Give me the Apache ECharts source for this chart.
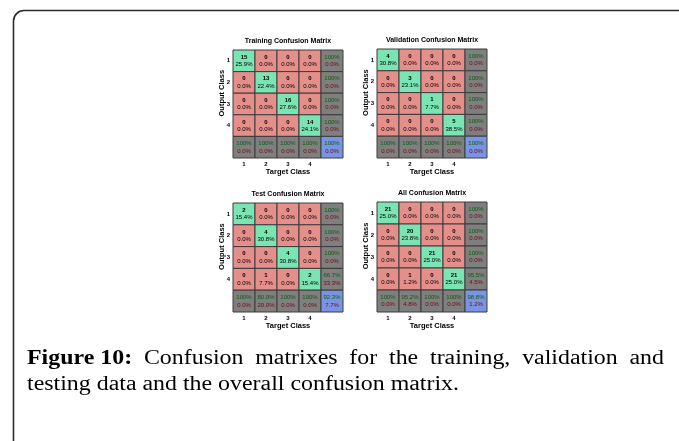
<!DOCTYPE html>
<html>
<head>
<meta charset="utf-8">
<script src="https://cdn.jsdelivr.net/npm/echarts@6/dist/echarts.min.js"></script>
<style>
html,body{margin:0;padding:0;background:#fff;}
#main{width:679px;height:441px;}
</style>
</head>
<body>
<div id="main"></div>
<script>
// ---- data ----
const classLabels = ['1', '2', '3', '4', ''];
const matrixTitles = ['Training Confusion Matrix', 'Validation Confusion Matrix', 'Test Confusion Matrix', 'All Confusion Matrix'];

const trainCounts = [[15,0,0,0],[0,13,0,0],[0,0,16,0],[0,0,0,14]];
const trainRowCorrect = [100,100,100,100];
const trainColCorrect = [100,100,100,100];
const trainOverall = 100;

const valCounts = [[4,0,0,0],[0,3,0,0],[0,0,1,0],[0,0,0,5]];
const valRowCorrect = [100,100,100,100];
const valColCorrect = [100,100,100,100];
const valOverall = 100;

const testCounts = [[2,0,0,0],[0,4,0,0],[0,0,4,0],[0,1,0,2]];
const testRowCorrect = [100,100,100,66.7];
const testColCorrect = [100,80.0,100,100];
const testOverall = 92.3;

const allCounts = [[21,0,0,0],[0,20,0,0],[0,0,21,0],[0,1,0,21]];
const allRowCorrect = [100,100,100,95.5];
const allColCorrect = [100,95.2,100,100];
const allOverall = 98.8;

const captionLine1 = ['Confusion', 'matrixes', 'for', 'the', 'training,', 'validation', 'and'];
const captionLabel = 'Figure 10:';
const captionLine2 = 'testing data and the overall confusion matrix.';

// ---- helpers ----
const matrices = [
  {counts: trainCounts, row: trainRowCorrect, col: trainColCorrect, overall: trainOverall},
  {counts: valCounts, row: valRowCorrect, col: valColCorrect, overall: valOverall},
  {counts: testCounts, row: testRowCorrect, col: testColCorrect, overall: testOverall},
  {counts: allCounts, row: allRowCorrect, col: allColCorrect, overall: allOverall}
];
const gridBoxes = [
  {left: 233, top: 50, width: 110, height: 108},
  {left: 377, top: 49, width: 110, height: 109},
  {left: 233, top: 203, width: 110, height: 109},
  {left: 377, top: 202, width: 110, height: 110}
];
const COLORS = {green: '#7ae5b2', red: '#e58f8b', gray: '#7f7f7f', blue: '#7a94e4'};
function pct(v) { return v === 100 ? '100%' : v.toFixed(1) + '%'; }

function buildCells(m) {
  const cells = [];
  let total = 0;
  m.counts.forEach(r => r.forEach(v => total += v));
  for (let r = 0; r < 4; r++) {
    for (let c = 0; c < 4; c++) {
      const v = m.counts[r][c];
      cells.push({x: c, y: r, a: String(v), b: (v / total * 100).toFixed(1) + '%', kind: r === c ? 'green' : 'red'});
    }
    cells.push({x: 4, y: r, a: pct(m.row[r]), b: (100 - m.row[r]).toFixed(1) + '%', kind: 'gray'});
  }
  for (let c = 0; c < 4; c++) {
    cells.push({x: c, y: 4, a: pct(m.col[c]), b: (100 - m.col[c]).toFixed(1) + '%', kind: 'gray'});
  }
  cells.push({x: 4, y: 4, a: pct(m.overall), b: (100 - m.overall).toFixed(1) + '%', kind: 'blue'});
  return cells;
}

const FONT = '"Liberation Sans", Arial, sans-serif';
const grids = [], xAxes = [], yAxes = [], series = [], titles = [], graphics = [];

matrices.forEach((m, i) => {
  const g = gridBoxes[i];
  grids.push({left: g.left, top: g.top, width: g.width, height: g.height, containLabel: false});
  xAxes.push({
    type: 'category', gridIndex: i, data: classLabels,
    axisLine: {show: false}, axisTick: {show: false}, splitLine: {show: false},
    axisLabel: {fontFamily: FONT, fontSize: 6, fontWeight: 'bold', color: '#000', margin: 3},
    name: 'Target Class', nameLocation: 'middle', nameGap: 10,
    nameTextStyle: {fontFamily: FONT, fontSize: 7.5, fontWeight: 'bold', color: '#000'}
  });
  yAxes.push({
    type: 'category', gridIndex: i, data: classLabels, inverse: true,
    axisLine: {show: false}, axisTick: {show: false}, splitLine: {show: false},
    axisLabel: {fontFamily: FONT, fontSize: 6, fontWeight: 'bold', color: '#000', margin: 3}
  });
  titles.push({
    text: matrixTitles[i], left: g.left + g.width / 2, top: g.top - 12, textAlign: 'center', padding: 0,
    textStyle: {fontFamily: FONT, fontSize: 7, fontWeight: 'bold', color: '#000'}
  });
  graphics.push({
    type: 'text', x: g.left - 11, y: g.top + g.height * 0.4, rotation: Math.PI / 2,
    style: {text: 'Output Class', fontFamily: FONT, fontSize: 7.5, fontWeight: 'bold', fill: '#000', align: 'center', verticalAlign: 'middle'}
  });
  const cells = buildCells(m);
  series.push({
    type: 'custom', xAxisIndex: i, yAxisIndex: i,
    data: cells.map(c => [c.x, c.y]),
    renderItem: function (params, api) {
      const cell = cells[params.dataIndex];
      const p = api.coord([api.value(0), api.value(1)]);
      const s = api.size([1, 1]);
      const isSummary = cell.kind === 'gray' || cell.kind === 'blue';
      const topColor = isSummary ? '#0b5d0b' : '#000';
      const botColor = isSummary ? '#6e0a14' : '#000';
      return {
        type: 'group',
        children: [
          {type: 'rect', shape: {x: p[0] - s[0] / 2, y: p[1] - s[1] / 2, width: s[0], height: s[1]},
           style: {fill: COLORS[cell.kind], stroke: '#3c3c3c', lineWidth: 1}},
          {type: 'text', x: p[0], y: p[1],
           style: {text: '{a|' + cell.a + '}\n{b|' + cell.b + '}', align: 'center', verticalAlign: 'middle',
             rich: {
               a: {fontFamily: FONT, fontSize: 6, fontWeight: isSummary ? 'normal' : 'bold', fill: topColor, lineHeight: 7.5, align: 'center'},
               b: {fontFamily: FONT, fontSize: 6, fill: botColor, lineHeight: 7.5, align: 'center'}
             }}}
        ]
      };
    }
  });
});

// frame
const frameStyle = {stroke: '#2b2b2b', lineWidth: 1.6, fill: null};
graphics.push({type: 'line', shape: {x1: 13.5, y1: 441, x2: 13.5, y2: 21}, style: frameStyle});
graphics.push({type: 'arc', shape: {cx: 24, cy: 21, r: 10.5, startAngle: Math.PI, endAngle: Math.PI * 1.5}, style: frameStyle});
graphics.push({type: 'line', shape: {x1: 24, y1: 10.5, x2: 679, y2: 10.5}, style: frameStyle});

// caption (justified first line)
const CAP_FONT = '"Liberation Serif", "Times New Roman", serif';
const CAP_SIZE = 20;
const cv = document.createElement('canvas').getContext('2d');
cv.font = CAP_SIZE + 'px ' + CAP_FONT;
const sx = 432 / cv.measureText(captionLine2).width;
const wordW = captionLine1.map(w => cv.measureText(w).width * sx);
cv.font = 'bold ' + CAP_SIZE + 'px ' + CAP_FONT;
const labelW = cv.measureText(captionLabel).width * sx;
const x0 = 27, x1 = 664;
const totalW = labelW + wordW.reduce((a, b) => a + b, 0);
const gap = (x1 - x0 - totalW) / captionLine1.length;
const y1 = 359, y2 = 385;
graphics.push({type: 'text', x: x0, y: y1, scaleX: sx, style: {text: captionLabel, font: 'bold ' + CAP_SIZE + 'px ' + CAP_FONT, fill: '#000', verticalAlign: 'middle'}});
let cx = x0 + labelW + gap;
captionLine1.forEach((w, k) => {
  graphics.push({type: 'text', x: cx, y: y1, scaleX: sx, style: {text: w, font: CAP_SIZE + 'px ' + CAP_FONT, fill: '#000', verticalAlign: 'middle'}});
  cx += wordW[k] + gap;
});
graphics.push({type: 'text', x: x0, y: y2, scaleX: sx, style: {text: captionLine2, font: CAP_SIZE + 'px ' + CAP_FONT, fill: '#000', verticalAlign: 'middle'}});

const chart = echarts.init(document.getElementById('main'), null, {renderer: 'canvas'});
chart.setOption({
  backgroundColor: '#fff',
  animation: false,
  title: titles,
  grid: grids,
  xAxis: xAxes,
  yAxis: yAxes,
  series: series,
  graphic: graphics
});
</script>
</body>
</html>
